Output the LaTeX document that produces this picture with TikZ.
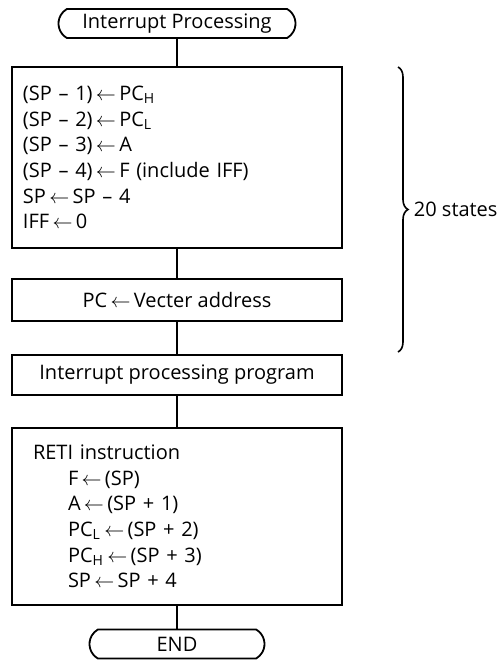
\documentclass[tikz,border=0pt]{standalone}
\usepackage{fontspec}
\setmainfont{Open Sans}
\usepackage{tikz}
\usetikzlibrary{shapes.misc,decorations.pathreplacing,calc}
\tikzset{
    terminal/.style args={#1}{draw, rounded rectangle, rounded rectangle arc length=120, minimum width=#1, minimum height=14.5pt, inner sep=0pt},
    stepbox/.style args={#1}{draw, minimum width=165pt, minimum height=#1, inner sep=0pt},
    listbox/.style args={#1/#2}{draw, align=left, minimum height=#1, inner ysep=0pt, inner xsep=#2, text width=165pt-2*#2}
}
\newcommand{\ga}{\,$\leftarrow$\,}

\begin{document}
\begin{tikzpicture}[x=0.5pt, y=-0.5pt, line width=0.9pt, font=\fontsize{10}{12.8}\selectfont]
\useasboundingbox (0,0) rectangle (498,665);
\node[terminal=118.5pt] (start) at (177,23.5) {Interrupt Processing};
\node[listbox=90.5pt/5.5pt] (push) at (177,157.5) {%
    (SP -- 1)\ga PC\textsubscript{H}\\
    (SP -- 2)\ga PC\textsubscript{L}\\
    (SP -- 3)\ga A\\
    (SP -- 4)\ga F (include IFF)\\
    SP\ga SP -- 4\\
    IFF\ga 0};
\node[stepbox=21pt] (vect) at (177,300) {PC\ga Vecter address};
\node[stepbox=20pt] (prog) at (177,375) {Interrupt processing program};
\node[listbox=88.5pt/10.5pt] (reti) at (177,516.5) {%
    RETI instruction\\
    \hspace*{17.5pt}F\ga (SP)\\
    \hspace*{17.5pt}A\ga (SP + 1)\\
    \hspace*{17.5pt}PC\textsubscript{L}\ga (SP + 2)\\
    \hspace*{17.5pt}PC\textsubscript{H}\ga (SP + 3)\\
    \hspace*{17.5pt}SP\ga SP + 4};
\node[terminal=87.5pt] (stop) at (177,644) {END};
\foreach \a/\b in {start/push, push/vect, vect/prog, prog/reti, reti/stop} {
    \draw (\a.south) -- (\b.north);
}
% state count
\coordinate (btop) at (398,67);
\coordinate (bbot) at (398,352);
\draw[line width=0.8pt, decorate, decoration={brace, amplitude=5pt}] (btop) -- (bbot);
\node[anchor=west, inner sep=0pt] (states) at ($(btop)!0.5!(bbot)+(15,0)$) {20 states};
\end{tikzpicture}
\end{document}
